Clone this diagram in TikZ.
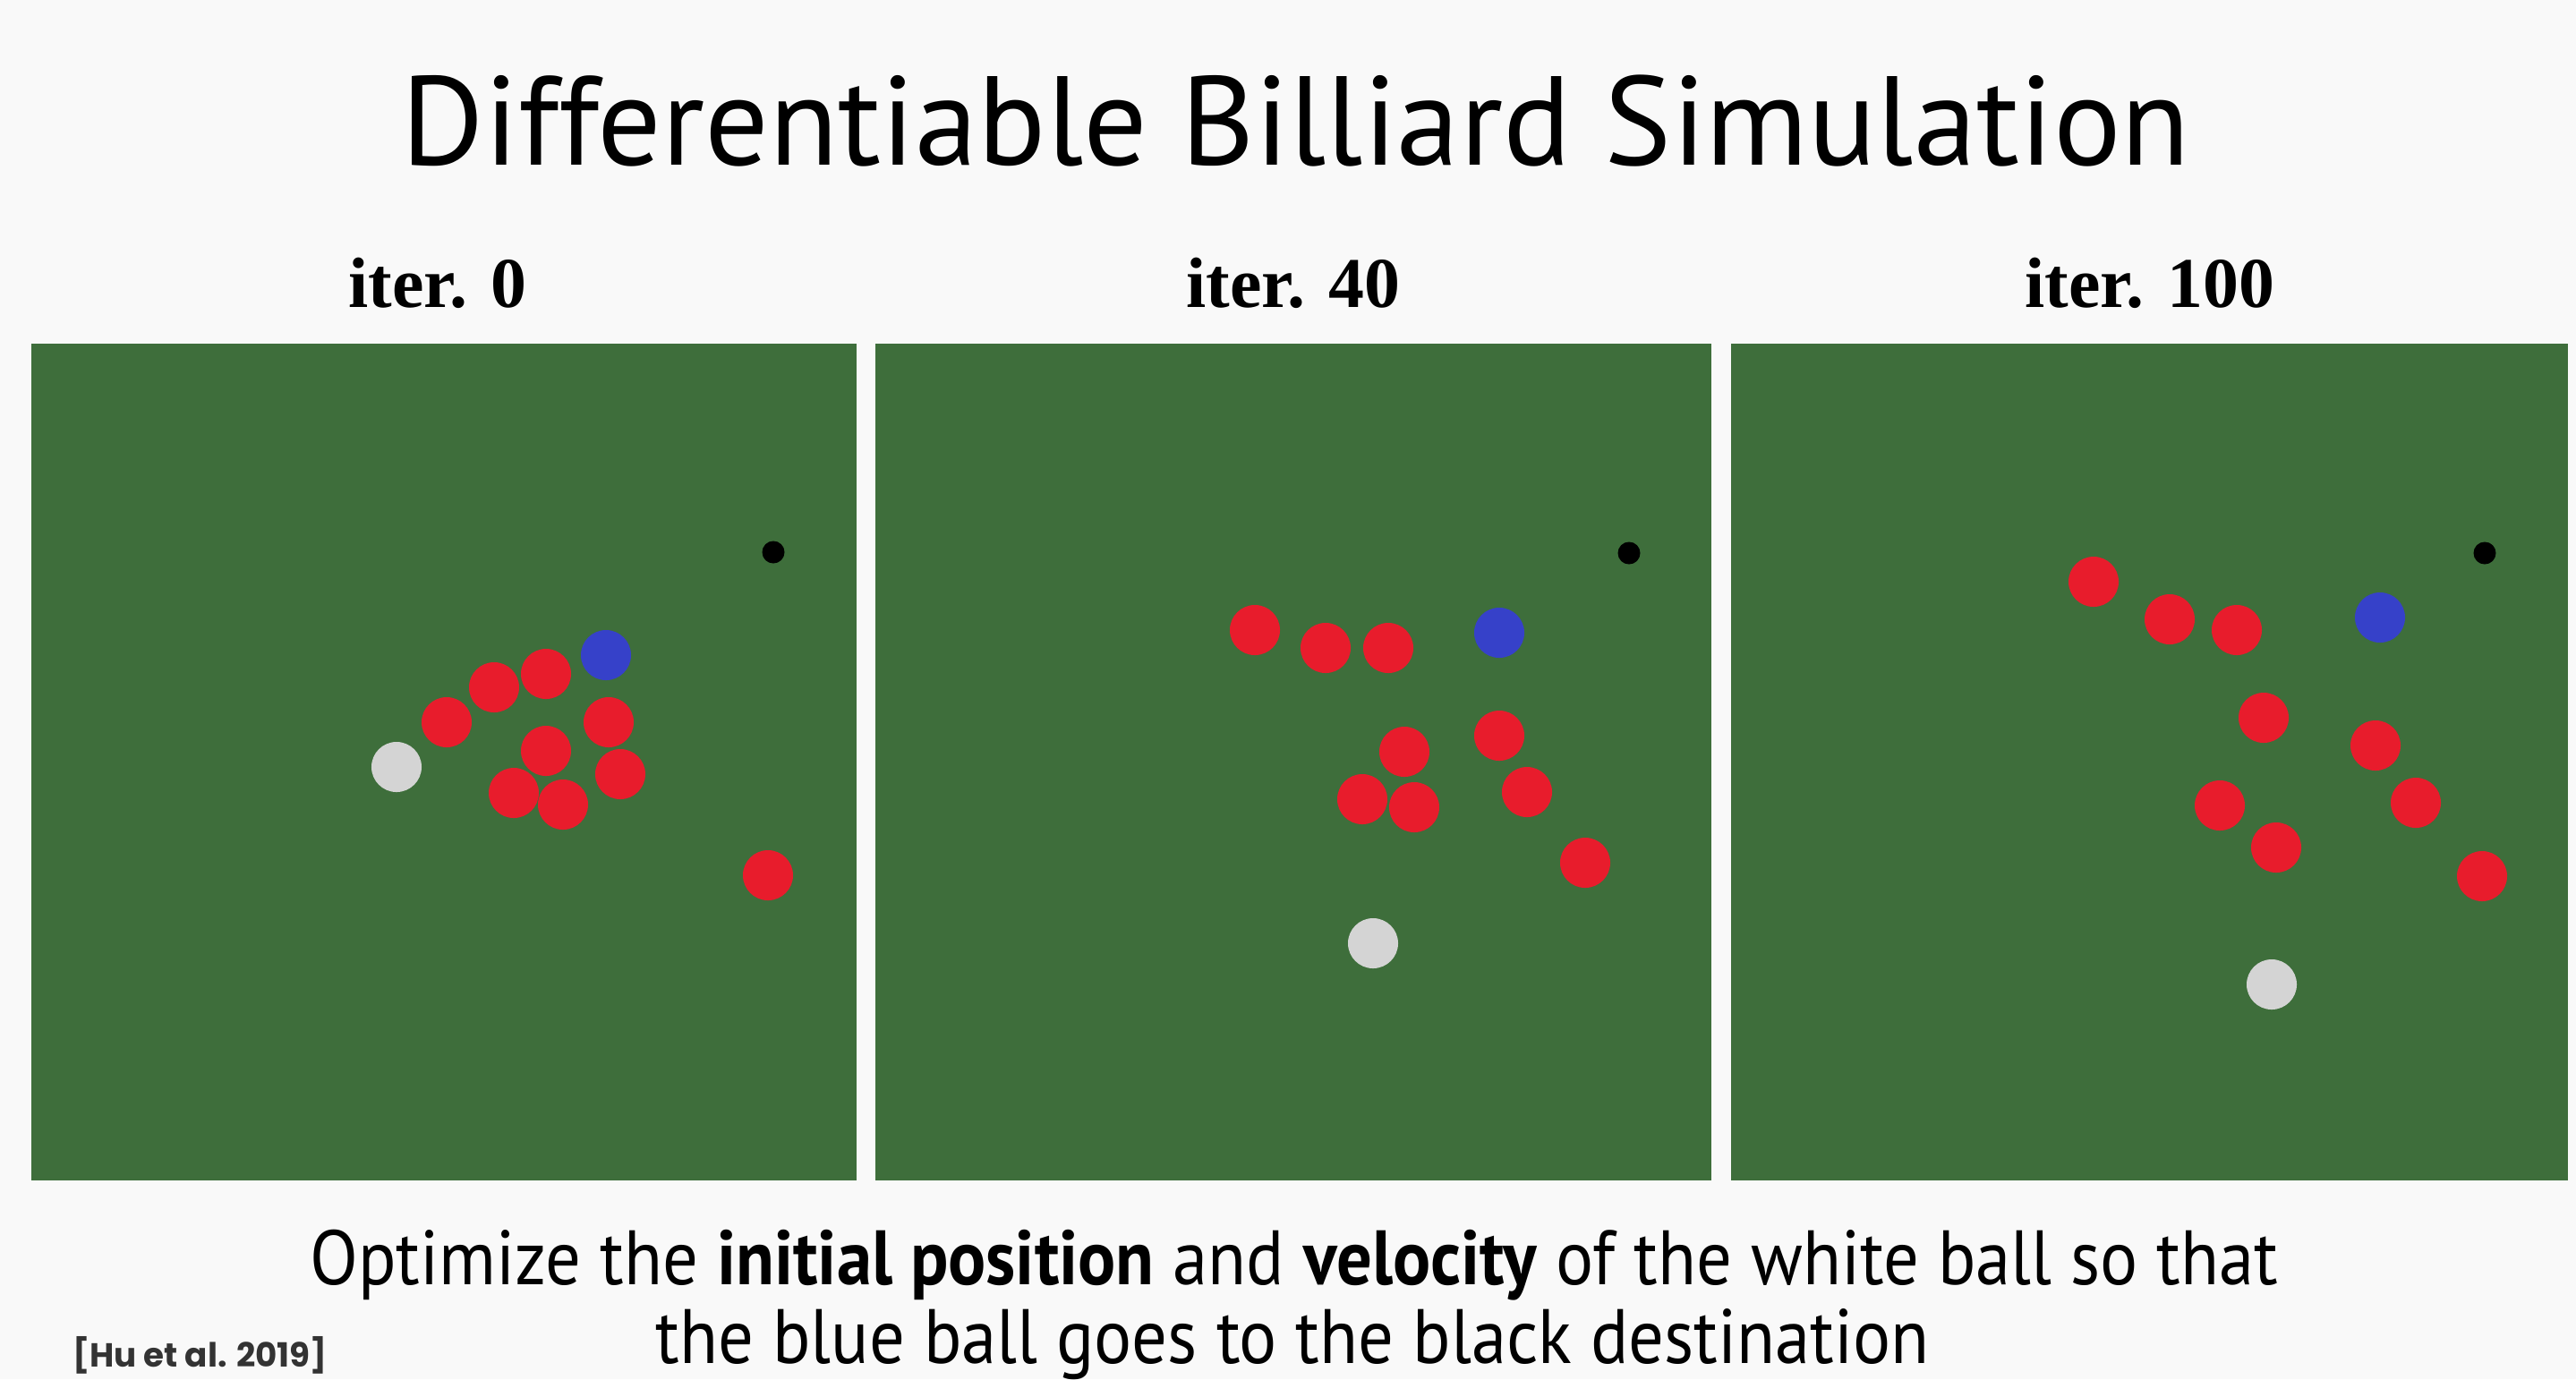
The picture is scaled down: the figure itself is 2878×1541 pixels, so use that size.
\documentclass[tikz,border=0pt]{standalone}
\usepackage{fontspec}
\setmainfont{PT Sans}
\newfontfamily\capfont[FakeStretch=0.913]{PT Sans}
\newfontfamily\iterfont{Liberation Serif}
\newfontfamily\reffont{Poppins}
\definecolor{bgc}{HTML}{F9F9F9}
\definecolor{felt}{HTML}{3E6E3B}
\definecolor{redball}{HTML}{E81C2C}
\definecolor{blueball}{HTML}{3641C9}
\definecolor{cueball}{HTML}{D4D4D4}
\definecolor{refgray}{HTML}{333333}
\tikzset{
  table/.style={fill=felt},
  rb/.style={fill=redball},
  bb/.style={fill=blueball},
  wb/.style={fill=cueball},
  target/.style={fill=black},
  iterlabel/.style={anchor=base, inner sep=0pt, font=\iterfont\bfseries\fontsize{22.7}{27}\selectfont},
  bodytext/.style={anchor=base, inner sep=0pt, font=\capfont\fontsize{24.5}{29}\selectfont}
}
\newcommand\rball[2]{\fill[rb] (#1,#2) circle[radius=0.28cm];}
\begin{document}
\begin{tikzpicture}[x=0.01cm,y=-0.01cm]
\fill[bgc] (0,0) rectangle (2878,1541);
\useasboundingbox (0,0) rectangle (2878,1541);
% title
\node[anchor=base, inner sep=0pt] (title) at (1448,184) {\resizebox{19.97cm}{!}{Differentiable Billiard Simulation}};
% labels
\node[iterlabel] (l1) at (489,343) {iter. 0};
\node[iterlabel] (l2) at (1445,343) {iter. 40};
\node[iterlabel] (l3) at (2402,343) {iter. 100};
% tables
\fill[table] (35,384) rectangle (957,1319);
\fill[table] (978,384) rectangle (1912,1319);
\fill[table] (1934,384) rectangle (2869,1319);
% panel 1
\fill[target] (864,617) circle[radius=0.125cm];
\fill[bb] (677,732) circle[radius=0.28cm];
\fill[wb] (443,857) circle[radius=0.28cm];
\rball{610}{753}\rball{552}{768}\rball{499}{807}\rball{680}{807}\rball{610}{839}
\rball{693}{865}\rball{574}{886}\rball{629}{899}\rball{858}{978}
% panel 2
\fill[target] (1820,618) circle[radius=0.125cm];
\fill[bb] (1675,707) circle[radius=0.28cm];
\fill[wb] (1534,1054) circle[radius=0.28cm];
\rball{1402}{704}\rball{1481}{724}\rball{1551}{724}\rball{1569}{840}\rball{1675}{822}
\rball{1522}{893}\rball{1580}{902}\rball{1706}{885}\rball{1771}{964}
% panel 3
\fill[target] (2776,618) circle[radius=0.125cm];
\fill[bb] (2659,690) circle[radius=0.28cm];
\fill[wb] (2538,1100) circle[radius=0.28cm];
\rball{2339}{650}\rball{2424}{692}\rball{2499}{704}\rball{2529}{802}\rball{2654}{833}
\rball{2480}{900}\rball{2543}{947}\rball{2699}{897}\rball{2773}{979}
% caption
\node[bodytext] (cap1) at (1446,1435) {Optimize the \textbf{initial position} and \textbf{velocity} of the white ball so that};
\node[bodytext] (cap2) at (1444,1523) {the blue ball goes to the black destination};
\node[anchor=base west, inner sep=0pt, text=refgray] (ref) at (81,1527) {\resizebox{2.84cm}{!}{\reffont\bfseries [Hu et al. 2019]}};
\end{tikzpicture}
\end{document}
